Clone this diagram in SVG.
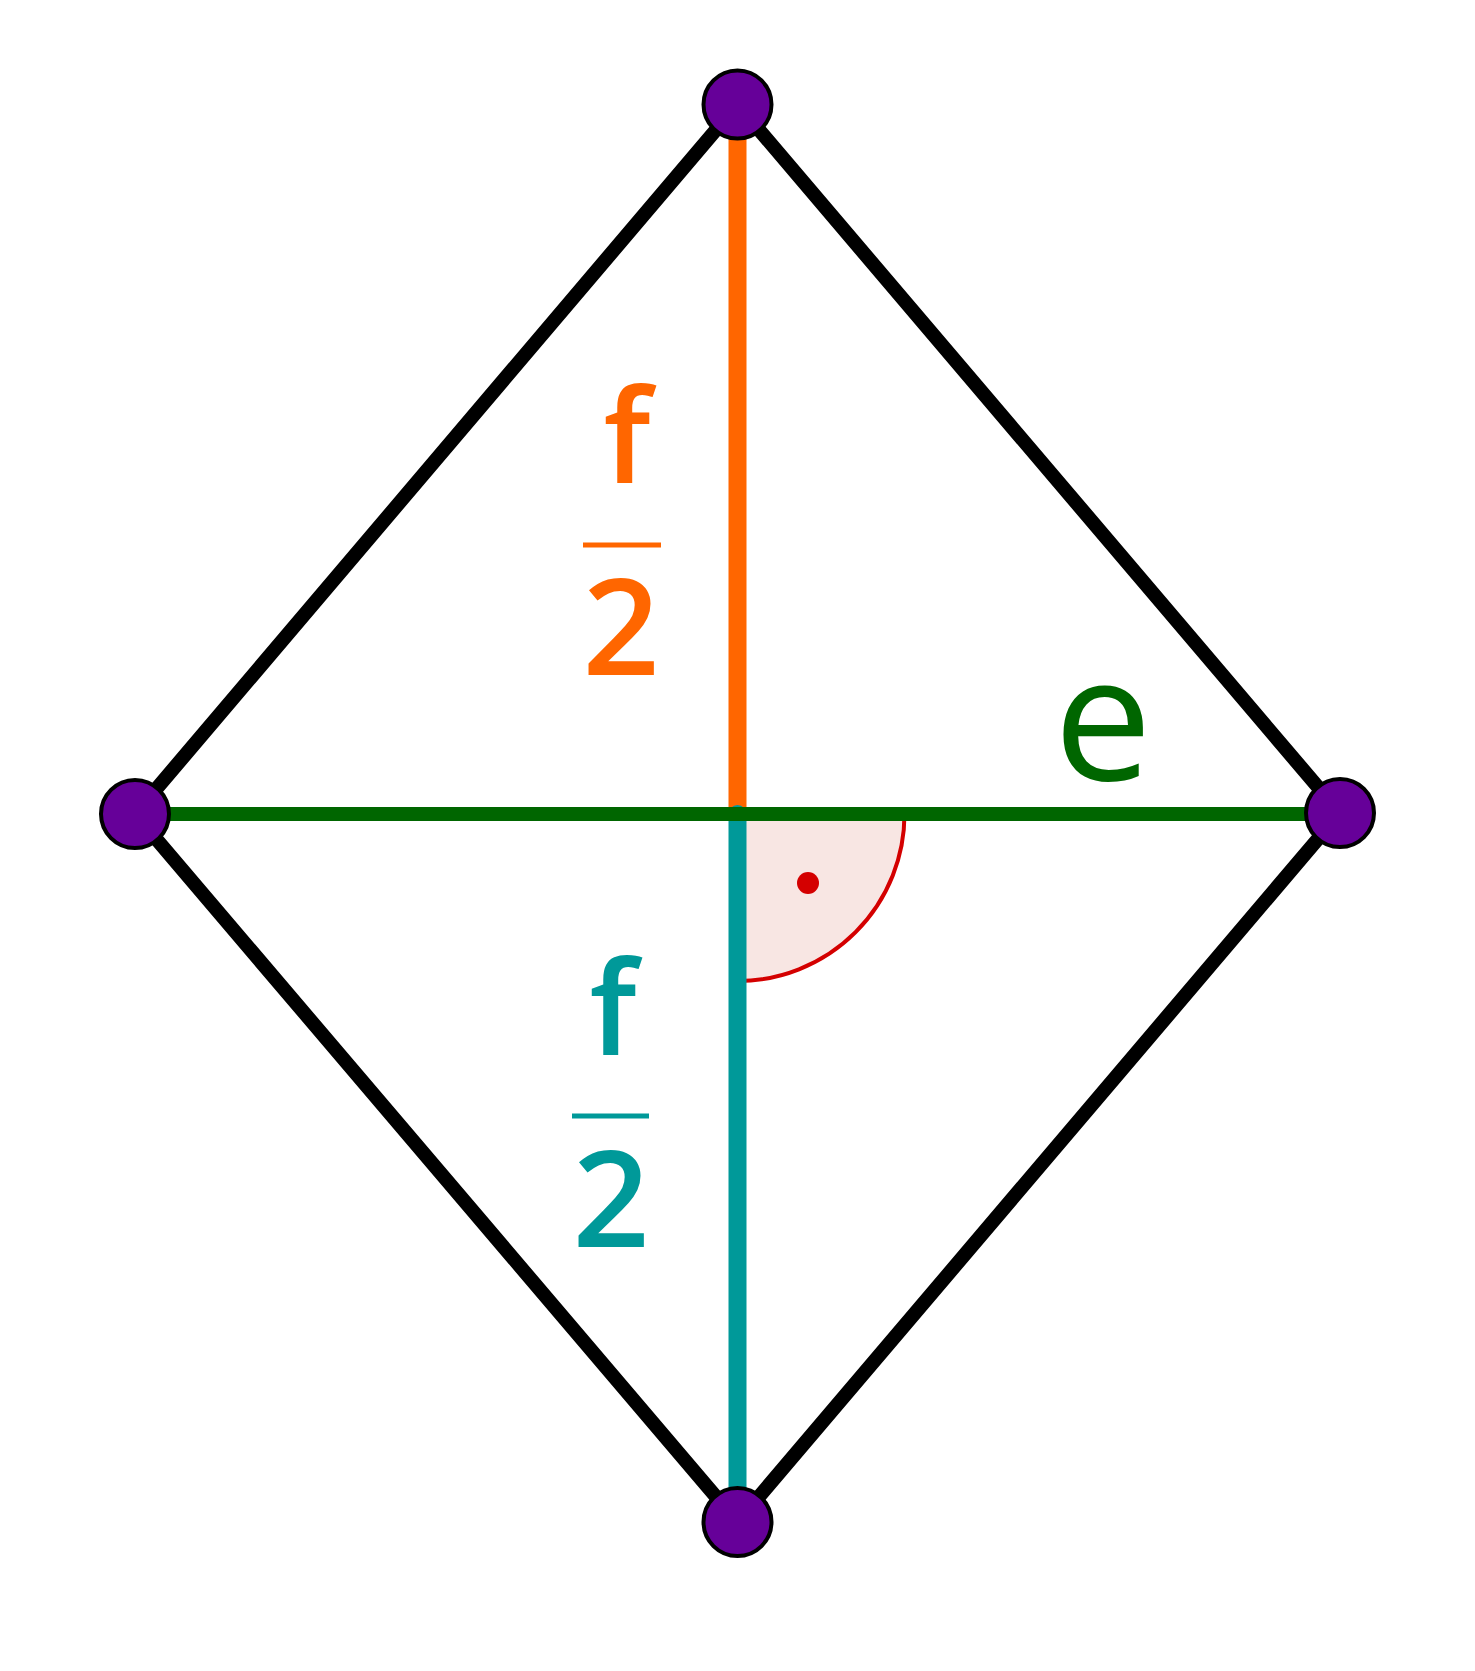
<svg xmlns="http://www.w3.org/2000/svg" width="1475" height="1671" viewBox="0 0 1475 1671">
<style>
.edge{stroke:#000;stroke-width:14;stroke-linecap:round}
.v{fill:#660099;stroke:#000;stroke-width:4}
text{font-family:"Open Sans","DejaVu Sans",sans-serif;font-weight:600;text-anchor:middle}
text.e{font-weight:400}
</style>
<rect width="1475" height="1671" fill="#fff"/>
<g id="angle">
<path d="M737.5 814 H904.5 A167 167 0 0 1 737.5 981 Z" fill="#f8e6e3" stroke="none"/>
<path d="M904.5 814 A167 167 0 0 1 737.5 981" fill="none" stroke="#d40000" stroke-width="4"/>
<circle cx="808" cy="883" r="11" fill="#d40000"/>
</g>
<g id="connectors">
<line class="edge" x1="737.5" y1="104.5" x2="1340" y2="813"/>
<line class="edge" x1="1340" y1="813" x2="737.5" y2="1522"/>
<line class="edge" x1="737.5" y1="1522" x2="135" y2="814"/>
<line class="edge" x1="135" y1="814" x2="737.5" y2="104.5"/>
<line x1="737.5" y1="104.5" x2="737.5" y2="814" stroke="#ff6600" stroke-width="18"/>
<line x1="737.5" y1="814" x2="737.5" y2="1522" stroke="#009999" stroke-width="18" stroke-linecap="round"/>
<line x1="135" y1="814" x2="1340" y2="814" stroke="#006600" stroke-width="14"/>
</g>
<g id="labels">
<text x="627" y="483" font-size="130" fill="#ff6600">f</text>
<line x1="583" y1="545" x2="661" y2="545" stroke="#ff6600" stroke-width="5"/>
<text x="621" y="675" font-size="135" fill="#ff6600">2</text>
<text x="613" y="1055" font-size="130" fill="#009999">f</text>
<line x1="572" y1="1116" x2="649" y2="1116" stroke="#009999" stroke-width="5"/>
<text x="611" y="1247" font-size="135" fill="#009999">2</text>
<text class="e" x="1103" y="780" font-size="175" fill="#006600">e</text>
</g>
<g id="v-top"><circle class="v" cx="737.5" cy="104.5" r="34"/></g>
<g id="v-right"><circle class="v" cx="1340" cy="813" r="34"/></g>
<g id="v-bottom"><circle class="v" cx="737.5" cy="1522" r="34"/></g>
<g id="v-left"><circle class="v" cx="135" cy="814" r="34"/></g>
</svg>
